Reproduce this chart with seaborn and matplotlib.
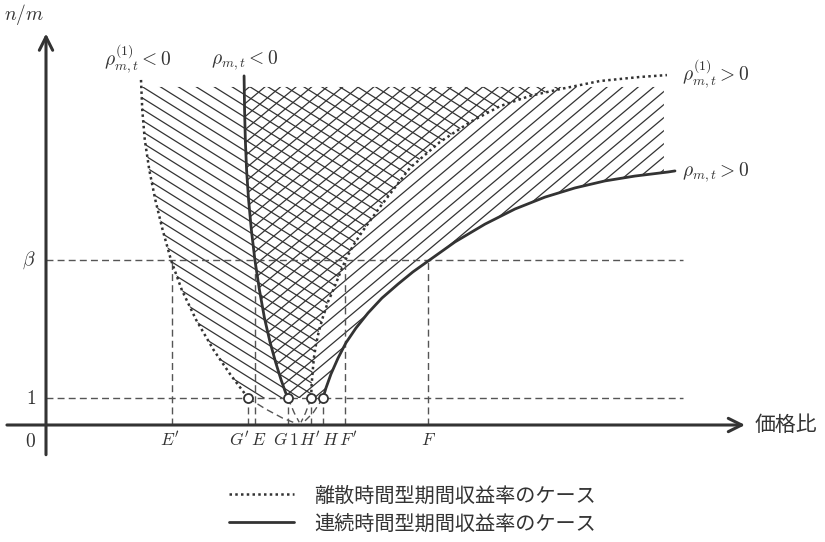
import numpy as np
import matplotlib.pyplot as plt
import seaborn as sns
from matplotlib.collections import LineCollection
from matplotlib.patches import Polygon

sns.set_theme(style="white")
plt.rcParams["font.family"] = ["Noto Sans CJK JP", "DejaVu Sans"]
plt.rcParams["mathtext.fontset"] = "cm"

INK = "#333333"
GUIDE = "#555555"

# --- values (x = price ratio, y = n/m) ---
beta = 6.11
top = 12.52          # upper edge of the hatched areas
right = 2.452        # right edge of the hatched areas

# rho^(1)_{m,t} < 0  (discrete, left boundary)
ld_x = [0.377, 0.382, 0.392, 0.410, 0.434, 0.463, 0.496, 0.539, 0.596, 0.665, 0.733, 0.802]
ld_y = [12.78, 11.67, 10.56, 9.44, 8.33, 7.22, 6.11, 5.00, 3.89, 2.78, 1.85, 1.00]
# rho_{m,t} < 0  (continuous, left boundary)
ls_x = [0.786, 0.788, 0.791, 0.796, 0.804, 0.815, 0.829, 0.847, 0.867, 0.889, 0.911, 0.933, 0.950, 0.960]
ls_y = [12.93, 11.67, 10.56, 9.44, 8.33, 7.22, 6.11, 5.00, 3.96, 3.07, 2.33, 1.67, 1.22, 1.00]
# rho^(1)_{m,t} > 0  (discrete, right boundary)
rd_x = [1.052, 1.054, 1.058, 1.063, 1.071, 1.083, 1.099, 1.119, 1.143, 1.167, 1.190, 1.218,
        1.254, 1.325, 1.444, 1.563, 1.683, 1.802, 1.921, 2.040, 2.198, 2.357, 2.464]
rd_y = [1.00, 1.48, 1.96, 2.48, 2.96, 3.48, 4.00, 4.56, 5.07, 5.63, 6.15, 6.63,
        7.15, 8.07, 9.52, 10.48, 11.22, 11.81, 12.19, 12.44, 12.74, 12.89, 12.96]
# rho_{m,t} > 0  (continuous, right boundary)
rs_x = [1.099, 1.111, 1.131, 1.159, 1.190, 1.230, 1.278, 1.333, 1.397, 1.456, 1.516,
        1.623, 1.742, 1.861, 1.980, 2.099, 2.218, 2.337, 2.468, 2.496]
rs_y = [1.00, 1.37, 1.89, 2.48, 3.04, 3.59, 4.15, 4.70, 5.22, 5.67, 6.07,
        6.78, 7.44, 8.00, 8.44, 8.78, 9.04, 9.22, 9.37, 9.41]

# dashed continuations below n/m = 1
ext_ld_x, ext_ld_y = [0.802, 0.870, 0.940, 0.995], [1.00, 0.60, 0.25, 0.05]
ext_ls_x, ext_ls_y = [0.960, 0.985, 1.005], [1.00, 0.45, 0.10]
ext_rd_x, ext_rd_y = [1.052, 1.030, 1.012], [1.00, 0.45, 0.10]
ext_rs_x, ext_rs_y = [1.099, 1.060, 1.022], [1.00, 0.45, 0.10]

# points on the x axis and the level they are projected from
tick_names = ["E'", "G'", "E", "G", "H'", "H", "F'", "F"]
tick_x = [0.500, 0.802, 0.829, 0.960, 1.052, 1.099, 1.187, 1.516]
tick_from = [beta, 1, beta, 1, 1, 1, beta, beta]
tick_dx = [-2, -9, 4, -7, -1, 8, 3, 0]     # label nudges, px

circ_x = [0.802, 0.960, 1.052, 1.099]
circ_y = [1, 1, 1, 1]

# --- figure: data units mapped onto the 825x542 canvas ---
PX0, PY0, SX, SY = 46, 425, 252, 27
fig = plt.figure(figsize=(8.25, 5.42), dpi=100)
ax = fig.add_axes([0, 0, 1, 1])
ax.set_xlim(-PX0 / SX, (825 - PX0) / SX)
ax.set_ylim((PY0 - 542) / SY, PY0 / SY)
ax.axis("off")


def cut_top(xs, ys, lim):
    xs, ys = np.asarray(xs), np.asarray(ys)
    order = np.argsort(ys)
    xt = np.interp(lim, ys[order], xs[order])
    keep = ys < lim
    return xs[keep], ys[keep], xt


def hatch(poly_xy, angle, gap):
    # parallel lines in pixel space, clipped to the polygon
    a = np.radians(angle)
    u = np.array([np.cos(a), np.sin(a)])
    n = np.array([-np.sin(a), np.cos(a)])
    corners = np.array([[-100, -200], [900, -200], [900, 600], [-100, 600]], float)
    proj = corners @ n
    segs = []
    for c in np.arange(proj.min(), proj.max(), gap):
        p0 = c * n - 1500 * u
        p1 = c * n + 1500 * u
        segs.append([(p0[0] / SX, p0[1] / SY), (p1[0] / SX, p1[1] / SY)])
    lc = LineCollection(segs, colors=INK, linewidths=0.9)
    clip = Polygon(poly_xy, closed=True, transform=ax.transData)
    ax.add_collection(lc)
    lc.set_clip_path(clip)


# hatched regions
lx, ly, lxt = cut_top(ld_x, ld_y, top)
rx, ry, rxt = cut_top(rd_x, rd_y, top)
poly_a = [(lxt, top)] + list(zip(lx, ly)) + list(zip(rx, ry)) + [(rxt, top)]
hatch(poly_a, -32, 9.5)

sx_, sy_, sxt = cut_top(ls_x, ls_y, top)
rs_xa, rs_ya = np.asarray(rs_x), np.asarray(rs_y)
yr = np.interp(right, rs_xa, rs_ya)
keep = rs_xa < right
poly_b = [(sxt, top)] + list(zip(sx_, sy_)) + list(zip(rs_xa[keep], rs_ya[keep])) + [(right, yr), (right, top)]
hatch(poly_b, 40, 10)

# guide lines
dash = (0, (5, 3))
ax.plot([0, 2.528], [1, 1], color=GUIDE, lw=1, ls=dash)
ax.plot([0, 2.528], [beta, beta], color=GUIDE, lw=1, ls=dash)
for tx, ty in zip(tick_x, tick_from):
    ax.plot([tx, tx], [0, ty], color=GUIDE, lw=1, ls=dash)
for ex, ey in [(ext_ld_x, ext_ld_y), (ext_ls_x, ext_ls_y), (ext_rd_x, ext_rd_y), (ext_rs_x, ext_rs_y)]:
    ax.plot(ex, ey, color=GUIDE, lw=1, ls=dash)

# boundary curves
dot = (0, (1, 1.3))
sns.lineplot(x=ld_x, y=ld_y, sort=False, estimator=None, ax=ax, color=INK, lw=1.8,
             linestyle=dot, label="離散時間型期間収益率のケース")
sns.lineplot(x=rd_x, y=rd_y, sort=False, estimator=None, ax=ax, color=INK, lw=1.8, linestyle=dot)
sns.lineplot(x=ls_x, y=ls_y, sort=False, estimator=None, ax=ax, color=INK, lw=2.0,
             label="連続時間型期間収益率のケース")
sns.lineplot(x=rs_x, y=rs_y, sort=False, estimator=None, ax=ax, color=INK, lw=2.0)

ax.plot(circ_x, circ_y, "o", ms=6.5, mfc="white", mec=INK, mew=1.3, zorder=5)

# axes with arrows
arrow = dict(arrowstyle="->", lw=2.2, color=INK, mutation_scale=24, shrinkA=0, shrinkB=0)
ax.annotate("", xy=(2.774, 0), xytext=(-0.155, 0), arrowprops=arrow)
ax.annotate("", xy=(0, 14.5), xytext=(0, -1.1), arrowprops=arrow)

fs = 14
ax.text(-0.087, 15.2, r"$n/m$", fontsize=fs, color=INK, ha="center", va="center")
ax.text(2.81, 0, "価格比", fontsize=15, color=INK, ha="left", va="center")
for lab, yv in [(r"$\beta$", beta), (r"$1$", 1), (r"$0$", -0.6)]:
    ax.text(-0.04, yv, lab, fontsize=fs, color=INK, ha="right", va="center")
for name, tx, dx in zip(tick_names, tick_x, tick_dx):
    lab = "$" + name + "$"
    ax.annotate(lab, xy=(tx, 0), xytext=(dx * 0.72, -11), textcoords="offset points",
                fontsize=12.5, color=INK, ha="center", va="center")
ax.annotate(r"$1$", xy=(0.983, 0), xytext=(0, -11), textcoords="offset points",
            fontsize=12.5, color=INK, ha="center", va="center")

ax.text(0.365, 13.55, r"$\rho^{(1)}_{m,t}<0$", fontsize=fs, color=INK, ha="center", va="center")
ax.text(0.790, 13.5, r"$\rho_{m,t}<0$", fontsize=fs, color=INK, ha="center", va="center")
ax.text(2.524, 13.0, r"$\rho^{(1)}_{m,t}>0$", fontsize=fs, color=INK, ha="left", va="center")
ax.text(2.524, 9.37, r"$\rho_{m,t}>0$", fontsize=fs, color=INK, ha="left", va="center")

handles, labels = ax.get_legend_handles_labels()
ax.legend(handles, labels, loc="center", bbox_to_anchor=(0.50, 0.059), bbox_transform=fig.transFigure,
          frameon=False, fontsize=14.5, handlelength=3.2, handletextpad=1.0, labelspacing=0.35,
          labelcolor=INK)

fig.savefig("out.png", dpi=100, facecolor="white")
